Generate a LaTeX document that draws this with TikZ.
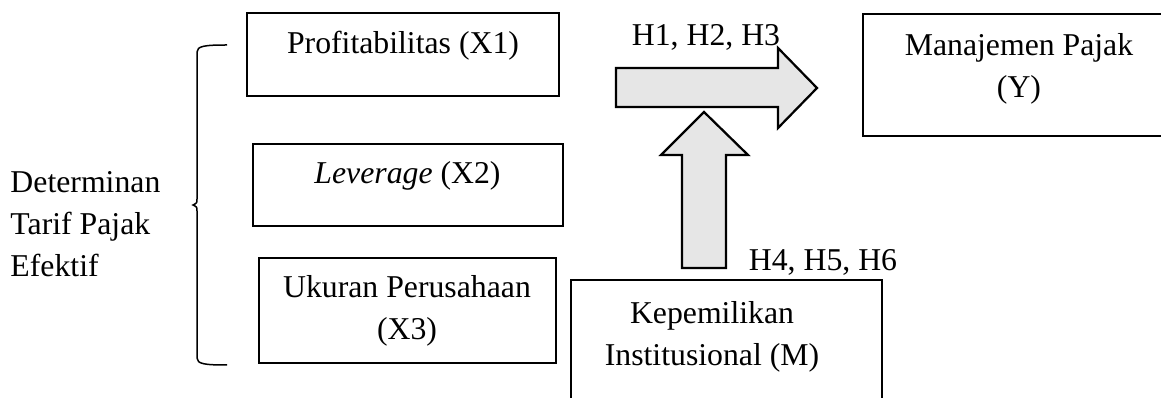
\documentclass[tikz,border=0pt]{standalone}
\usepackage{fontspec}
\setmainfont{Liberation Serif}
\usetikzlibrary{positioning}
\definecolor{arrowgray}{HTML}{E6E6E6}
\begin{document}
\begin{tikzpicture}[x=0.4pt,y=-0.4pt,font=\fontsize{12.7pt}{16.8pt}\selectfont,
	box/.style={rectangle, draw, line width=0.7pt, inner sep=0pt},
	caption/.style={inner sep=0pt, align=center},
	blockarrow/.style={draw, fill=arrowgray, line width=0.9pt, line join=miter}]
	\clip (0,0) rectangle (1161,398);

	\node (prof) [box,minimum width=124.8pt,minimum height=33.2pt] at (403,54.5) {};
	\node (lev) [box,minimum width=124pt,minimum height=32.8pt] at (408,185) {};
	\node (size) [box,minimum width=118.8pt,minimum height=42pt] at (407.5,310.5) {};
	\node (inst) [box,minimum width=124.4pt,minimum height=56pt] at (726.5,350) {};
	\node (tax) [box,minimum width=124.8pt,minimum height=48.8pt] at (1019,75) {};

	\node (proftext) [caption] at (403,45.5) {Profitabilitas (X1)};
	\node (levtext) [caption] at (407.5,175.5) {\textit{Leverage} (X2)};
	\node (sizetext) [caption] at (407,310.5) {Ukuran Perusahaan\\(X3)};
	\node (insttext) [caption] at (712,336.5) {Kepemilikan\\Institusional (M)};
	\node (taxtext) [caption] at (1019,68.5) {Manajemen Pajak\\(Y)};
	\node (det) [caption,align=left,anchor=west] at (10,224.5) {Determinan\\Tarif Pajak\\Efektif};

	% block arrows
	\draw[blockarrow] (616,68) -- (778,68) -- (778,48) -- (817,88) -- (778,128) -- (778,107) -- (616,107) -- cycle;
	\draw[blockarrow] (682,268) -- (682,155) -- (661,155) -- (704,112) -- (748,155) -- (726,155) -- (726,268) -- cycle;
	\node (h123) [caption] at (706,37.5) {H1, H2, H3};
	\node (h456) [caption] at (823,262.5) {H4, H5, H6};

	% brace
	\draw[line width=0.6pt] (227,45) .. controls (205,45) and (197,46) .. (197,52) -- (197,199)
		.. controls (197,203) .. (193,205) .. controls (197,207) .. (197,211) -- (197,358)
		.. controls (197,364) and (205,365) .. (227,365);
\end{tikzpicture}
\end{document}
